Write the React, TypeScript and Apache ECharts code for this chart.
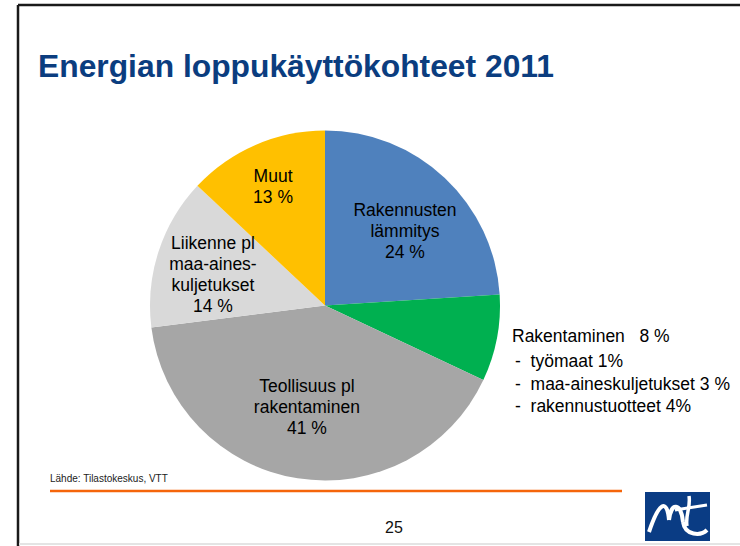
import React, { useEffect, useRef } from "react";
import * as echarts from "echarts";

const titleText = "Energian loppukäyttökohteet 2011";
const sourceText = "Lähde: Tilastokeskus, VTT";
const pageNumber = "25";

const categories = [
  "Rakennusten lämmitys",
  "Rakentaminen",
  "Teollisuus pl rakentaminen",
  "Liikenne pl maa-aineskuljetukset",
  "Muut",
];
const labelTexts = [
  "Rakennusten\nlämmitys",
  "Rakentaminen",
  "Teollisuus pl\nrakentaminen",
  "Liikenne pl\nmaa-aines-\nkuljetukset",
  "Muut",
];
const values = [24, 8, 41, 14, 13];
const rakentaminenParts = ["työmaat 1%", "maa-aineskuljetukset 3 %", "rakennustuotteet 4%"];
const sliceColors = ["#4F81BD", "#00B050", "#A6A6A6", "#D9D9D9", "#FFC000"];

const FONT = 'Arial, "Liberation Sans", Helvetica, sans-serif';

export default function App() {
  const ref = useRef<HTMLDivElement>(null);
  useEffect(() => {
    if (!ref.current) return;
    const chart = echarts.init(ref.current, undefined, { renderer: "svg" });
    // label nudges (pixels) relative to default inside position
    const nudges: Record<number, [number, number]> = {
      0: [18, -9],
      2: [-4, 12],
      3: [-26, -3],
      4: [-16, -36],
    };
    chart.setOption({
      animation: false,
      backgroundColor: "#ffffff",
      series: [
        {
          type: "pie",
          center: [325, 305.5],
          radius: [0, 175],
          startAngle: 90,
          clockwise: true,
          avoidLabelOverlap: false,
          itemStyle: { borderWidth: 0 },
          emphasis: { disabled: true },
          label: {
            show: true,
            position: "inside",
            color: "#000",
            fontFamily: FONT,
            fontSize: 17.5,
            lineHeight: 21,
            align: "center",
            formatter: (p: any) => `${labelTexts[p.dataIndex]}\n${p.value} %`,
          },
          labelLine: { show: false },
          labelLayout: (p: any) => {
            if (p.dataIndex === 1) {
              return { x: 512, y: 322, align: "left", verticalAlign: "top" };
            }
            const n = nudges[p.dataIndex] || [0, 0];
            return { dx: n[0], dy: n[1] };
          },
          data: categories.map((name, i) => {
            const item: any = {
              name,
              value: values[i],
              itemStyle: { color: sliceColors[i] },
            };
            if (i === 1) {
              item.label = {
                position: "outside",
                align: "left",
                formatter: () =>
                  `{h|${labelTexts[1]}   ${values[1]} %}\n` +
                  rakentaminenParts.map((t) => `{s|-  ${t}}`).join("\n"),
                rich: {
                  h: { fontSize: 17.5, lineHeight: 28, color: "#000", fontFamily: FONT },
                  s: { fontSize: 17.5, lineHeight: 22.5, color: "#000", fontFamily: FONT, padding: [0, 0, 0, 3] },
                },
              };
              item.labelLine = { show: false };
            }
            return item;
          }),
        },
      ],
      graphic: [
        // slide frame
        { type: "line", shape: { x1: 18, y1: 5, x2: 740, y2: 5 }, style: { stroke: "#1a1a1a", lineWidth: 2.5 } },
        { type: "line", shape: { x1: 18, y1: 5, x2: 18, y2: 546 }, style: { stroke: "#1a1a1a", lineWidth: 2.5 } },
        { type: "line", shape: { x1: 19, y1: 544, x2: 740, y2: 544 }, style: { stroke: "#e4e4e4", lineWidth: 2 } },
        // title
        {
          type: "text",
          x: 38,
          y: 82,
          style: {
            text: titleText,
            fill: "#0B3D7F",
            font: `bold 31.8px ${FONT}`,
            textVerticalAlign: "bottom",
          },
        },
        // source
        {
          type: "text",
          x: 50,
          y: 478,
          style: { text: sourceText, fill: "#222", font: `10px ${FONT}`, textVerticalAlign: "middle" },
        },
        // orange line
        { type: "line", shape: { x1: 50, y1: 491, x2: 622, y2: 491 }, style: { stroke: "#F5650A", lineWidth: 2.5 } },
        // page number
        {
          type: "text",
          x: 394,
          y: 527,
          style: { text: pageNumber, fill: "#111", font: `16px ${FONT}`, textAlign: "center", textVerticalAlign: "middle" },
        },
        // logo
        {
          type: "group",
          x: 645,
          y: 492,
          children: [
            { type: "rect", shape: { x: 0, y: 0, width: 65, height: 49 }, style: { fill: "#0A3C84" } },
            {
              type: "bezierCurve",
              shape: { x1: 4, y1: 40, x2: 24, y2: 28, cpx1: 14, cpy1: 10, cpx2: 22, cpy2: 6 },
              style: { stroke: "#fff", lineWidth: 4, fill: "none" },
            },
            {
              type: "bezierCurve",
              shape: { x1: 24, y1: 28, x2: 38, y2: 30, cpx1: 26, cpy1: 10, cpx2: 36, cpy2: 10 },
              style: { stroke: "#fff", lineWidth: 4, fill: "none" },
            },
            {
              type: "bezierCurve",
              shape: { x1: 38, y1: 30, x2: 62, y2: 38, cpx1: 40, cpy1: 44, cpx2: 56, cpy2: 44 },
              style: { stroke: "#fff", lineWidth: 4, fill: "none" },
            },
            {
              type: "bezierCurve",
              shape: { x1: 44, y1: 4, x2: 42, y2: 34, cpx1: 46, cpy1: 14, cpx2: 40, cpy2: 24 },
              style: { stroke: "#fff", lineWidth: 3.5, fill: "none" },
            },
            {
              type: "line",
              shape: { x1: 30, y1: 18, x2: 62, y2: 13 },
              style: { stroke: "#fff", lineWidth: 3 },
            },
          ],
        },
      ],
    });
    return () => chart.dispose();
  }, []);
  return (
    <div
      ref={ref}
      style={{ position: "fixed", left: 0, top: 0, width: 740, height: 546, background: "#fff" }}
    />
  );
}
